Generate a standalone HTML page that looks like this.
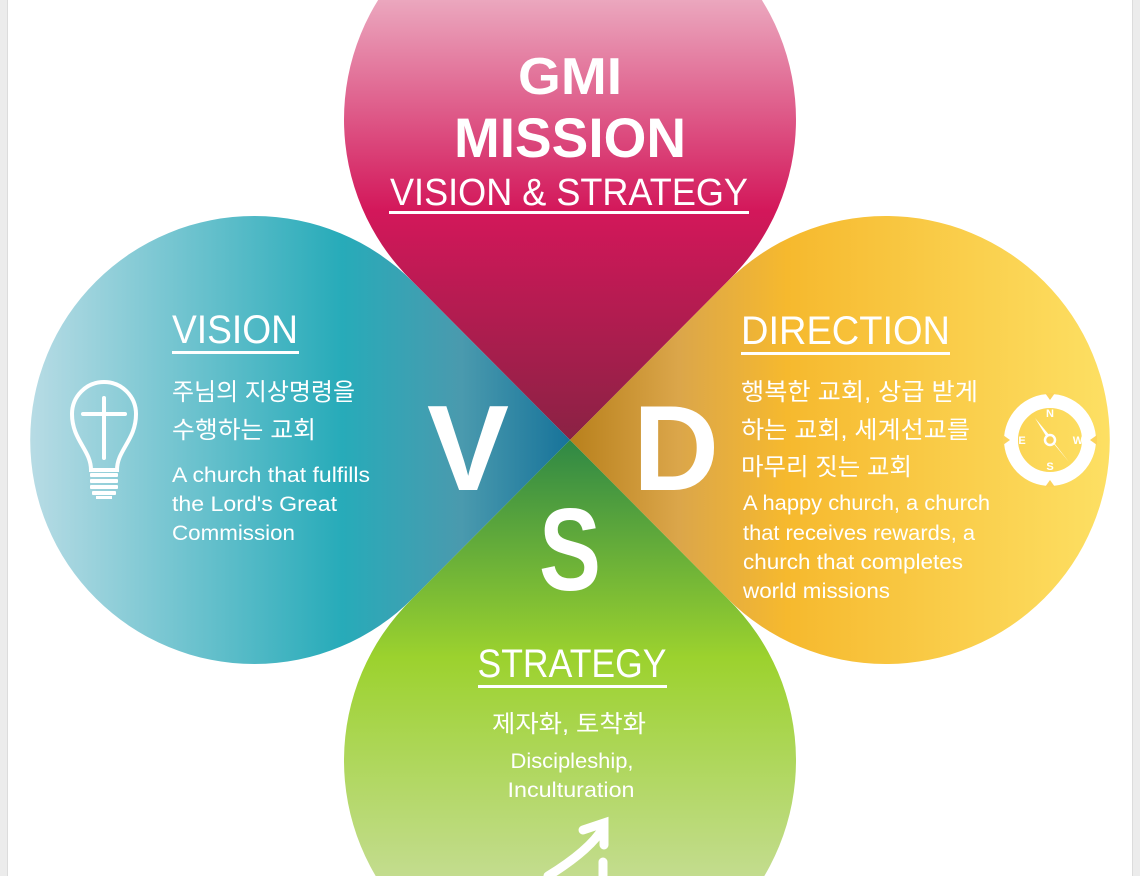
<!DOCTYPE html>
<html><head><meta charset="utf-8"><style>
html,body{margin:0;padding:0;background:#fff;width:1140px;height:876px;overflow:hidden;}
svg{display:block;}
text{font-family:"Liberation Sans","Noto Sans CJK KR",sans-serif;fill:#fff;}
</style></head><body>
<svg width="1140" height="876" viewBox="0 0 1140 876" xmlns="http://www.w3.org/2000/svg">
<defs>
<clipPath id="cp"><rect x="0" y="0" width="1140" height="876"/></clipPath>
<linearGradient id="gt" x1="0" y1="0" x2="0" y2="440" gradientUnits="userSpaceOnUse">
<stop offset="0" stop-color="#eba7be"/><stop offset="0.48" stop-color="#d3175a"/><stop offset="1" stop-color="#8a2244"/>
</linearGradient>
<linearGradient id="gl" x1="27" y1="0" x2="570" y2="0" gradientUnits="userSpaceOnUse">
<stop offset="0" stop-color="#b9dce5"/><stop offset="0.58" stop-color="#27abb9"/><stop offset="0.8" stop-color="#4a9aae"/><stop offset="1" stop-color="#17739a"/>
</linearGradient>
<linearGradient id="gr" x1="570" y1="0" x2="1113" y2="0" gradientUnits="userSpaceOnUse">
<stop offset="0" stop-color="#b8801c"/><stop offset="0.2" stop-color="#dba64a"/><stop offset="0.4" stop-color="#f6b92e"/><stop offset="1" stop-color="#fde064"/>
</linearGradient>
<linearGradient id="gb" x1="0" y1="440" x2="0" y2="876" gradientUnits="userSpaceOnUse">
<stop offset="0" stop-color="#2f8845"/><stop offset="0.5" stop-color="#9cd22e"/><stop offset="1" stop-color="#c3dc8e"/>
</linearGradient>
</defs>
<g clip-path="url(#cp)">
<rect x="0" y="0" width="8" height="876" fill="#ececec"/>
<rect x="7" y="0" width="1" height="876" fill="#dcdcdc"/>
<rect x="1132" y="0" width="8" height="876" fill="#ececec"/>
<rect x="1132" y="0" width="1" height="876" fill="#dcdcdc"/>

<path d="M570 440 L412 281 A226 226 0 1 1 728 281 Z" fill="url(#gt)"/>
<path d="M570 440 L413 282 A224 224 0 1 0 413 598 Z" fill="url(#gl)"/>
<path d="M570 440 L727 282 A224 224 0 1 1 727 598 Z" fill="url(#gr)"/>
<path d="M570 440 L412 599 A226 226 0 1 0 728 599 Z" fill="url(#gb)"/>

<text x="570" y="94" text-anchor="middle" font-size="52" font-weight="bold" textLength="104" lengthAdjust="spacingAndGlyphs">GMI</text>
<text x="570" y="157" text-anchor="middle" font-size="56" font-weight="bold" textLength="232" lengthAdjust="spacingAndGlyphs">MISSION</text>
<text x="569" y="205" text-anchor="middle" font-size="38" textLength="358" lengthAdjust="spacingAndGlyphs">VISION &amp; STRATEGY</text>
<rect x="389" y="211" width="360" height="3" fill="#fff"/>

<text x="172" y="343" font-size="40" textLength="126" lengthAdjust="spacingAndGlyphs">VISION</text>
<rect x="172" y="351" width="127" height="3" fill="#fff"/>
<text x="172" y="400" font-size="24" textLength="183" lengthAdjust="spacingAndGlyphs">주님의 지상명령을</text>
<text x="172" y="438" font-size="24" textLength="144" lengthAdjust="spacingAndGlyphs">수행하는 교회</text>
<text x="172" y="482" font-size="21" textLength="198" lengthAdjust="spacingAndGlyphs">A church that fulfills</text>
<text x="172" y="511" font-size="21" textLength="165" lengthAdjust="spacingAndGlyphs">the Lord's Great</text>
<text x="172" y="540" font-size="21" textLength="123" lengthAdjust="spacingAndGlyphs">Commission</text>

<g fill="none" stroke="#fff" stroke-width="4" stroke-linecap="round">
<path d="M91 470 C91 450 72 440 72 414 A32 32 0 0 1 136 414 C136 440 117 450 117 470 Z"/>
<line x1="104" y1="398" x2="104" y2="458"/>
<line x1="83" y1="414" x2="125" y2="414"/>
</g>
<g fill="#fff">
<rect x="90" y="473" width="28" height="4" rx="1"/>
<rect x="90" y="479" width="28" height="4" rx="1"/>
<rect x="90" y="485" width="28" height="4" rx="1"/>
<rect x="92" y="491" width="24" height="4" rx="1"/>
<rect x="96" y="496" width="16" height="3"/>
</g>

<text x="741" y="344" font-size="40" textLength="209" lengthAdjust="spacingAndGlyphs">DIRECTION</text>
<rect x="741" y="352" width="209" height="3" fill="#fff"/>
<text x="741" y="400" font-size="24" textLength="237" lengthAdjust="spacingAndGlyphs">행복한 교회, 상급 받게</text>
<text x="741" y="438" font-size="24" textLength="229" lengthAdjust="spacingAndGlyphs">하는 교회, 세계선교를</text>
<text x="741" y="475" font-size="24" textLength="171" lengthAdjust="spacingAndGlyphs">마무리 짓는 교회</text>
<text x="743" y="510" font-size="21" textLength="247" lengthAdjust="spacingAndGlyphs">A happy church, a church</text>
<text x="743" y="540" font-size="21" textLength="232" lengthAdjust="spacingAndGlyphs">that receives rewards, a</text>
<text x="743" y="569" font-size="21" textLength="220" lengthAdjust="spacingAndGlyphs">church that completes</text>
<text x="743" y="598" font-size="21" textLength="147" lengthAdjust="spacingAndGlyphs">world missions</text>

<g>
<circle cx="1050" cy="440" r="39" fill="none" stroke="#fff" stroke-width="14"/>
<polygon points="1045,393 1055,393 1050,400" fill="#fcd35a"/>
<polygon points="1045,487 1055,487 1050,480" fill="#fcd35a"/>
<polygon points="1003,435 1003,445 1010,440" fill="#fcd35a"/>
<polygon points="1097,435 1097,445 1090,440" fill="#fcd35a"/>
<polygon points="1035,418 1050,436 1054,444 1069,462 1055,444 1046,436" fill="#fff"/>
<circle cx="1050" cy="440" r="5" fill="#fcd35a" stroke="#fff" stroke-width="2.5"/>
<text x="1050" y="417" text-anchor="middle" font-size="11" font-weight="bold">N</text>
<text x="1050" y="470" text-anchor="middle" font-size="11" font-weight="bold">S</text>
<text x="1022" y="444" text-anchor="middle" font-size="11" font-weight="bold">E</text>
<text x="1078" y="444" text-anchor="middle" font-size="11" font-weight="bold">W</text>
</g>

<text x="468" y="490" text-anchor="middle" font-size="122" font-weight="bold" textLength="82" lengthAdjust="spacingAndGlyphs">V</text>
<text x="676" y="490" text-anchor="middle" font-size="122" font-weight="bold" textLength="86" lengthAdjust="spacingAndGlyphs">D</text>
<text x="570" y="590" text-anchor="middle" font-size="117" font-weight="bold" textLength="62" lengthAdjust="spacingAndGlyphs">S</text>

<text x="572" y="677" text-anchor="middle" font-size="40" textLength="189" lengthAdjust="spacingAndGlyphs">STRATEGY</text>
<rect x="478" y="685" width="189" height="3" fill="#fff"/>
<text x="569" y="732" text-anchor="middle" font-size="24" textLength="154" lengthAdjust="spacingAndGlyphs">제자화, 토착화</text>
<text x="572" y="768" text-anchor="middle" font-size="21" textLength="123" lengthAdjust="spacingAndGlyphs">Discipleship,</text>
<text x="571" y="797" text-anchor="middle" font-size="21" textLength="127" lengthAdjust="spacingAndGlyphs">Inculturation</text>

<g stroke="#fff" stroke-width="9" stroke-linecap="round" fill="none">
<path d="M548 876 Q590 850 603 828"/>
<path d="M583 830 L604 823 L604 845"/>
<line x1="603" y1="862" x2="603" y2="876"/>
</g>
</g>
</svg>
</body></html>
